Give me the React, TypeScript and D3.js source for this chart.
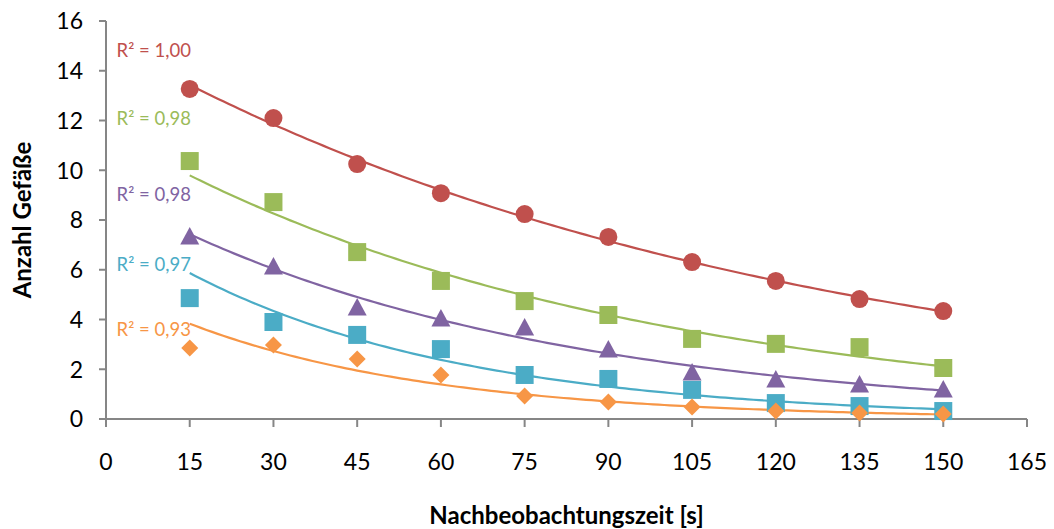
import React, { useEffect } from 'react';
import * as d3 from 'd3';

// Nachbeobachtungszeit vs. Anzahl Gefäße, five series with exponential trendlines
const times = [15, 30, 45, 60, 75, 90, 105, 120, 135, 150];

const redValues = [13.27, 12.1, 10.25, 9.08, 8.24, 7.32, 6.31, 5.55, 4.82, 4.34];
const greenValues = [10.37, 8.72, 6.71, 5.55, 4.74, 4.18, 3.22, 3.02, 2.89, 2.05];
const purpleValues = [7.36, 6.15, 4.5, 4.06, 3.7, 2.81, 1.89, 1.61, 1.41, 1.21];
const cyanValues = [4.86, 3.9, 3.38, 2.81, 1.77, 1.61, 1.17, 0.64, 0.52, 0.32];
const orangeValues = [2.85, 2.97, 2.41, 1.77, 0.92, 0.68, 0.48, 0.32, 0.24, 0.2];

const r2Labels = ['R² = 1,00', 'R² = 0,98', 'R² = 0,98', 'R² = 0,97', 'R² = 0,93'];
// y value (in data units) where each R² label sits
const r2LabelY = [14.55, 11.8, 8.75, 5.95, 3.35];

const xTicks = [0, 15, 30, 45, 60, 75, 90, 105, 120, 135, 150, 165];
const yTicks = [0, 2, 4, 6, 8, 10, 12, 14, 16];

const series = [
  { name: 'red', values: redValues, color: '#C0504D', shape: 'circle' },
  { name: 'green', values: greenValues, color: '#9BBB59', shape: 'square' },
  { name: 'purple', values: purpleValues, color: '#8064A2', shape: 'triangle' },
  { name: 'cyan', values: cyanValues, color: '#4BACC6', shape: 'square' },
  { name: 'orange', values: orangeValues, color: '#F79646', shape: 'diamond' },
];

const width = 1054;
const height = 529;
const margin = { top: 21, right: 27, bottom: 110, left: 106 };
const font = 'Lato, "Open Sans", sans-serif';
const axisColor = '#868686';

// least squares fit of ln(y) = ln(a) + b x, like Excel's exponential trendline
function expFit(xs: number[], ys: number[]) {
  const ly = ys.map(v => Math.log(v));
  const mx = d3.mean(xs) as number;
  const my = d3.mean(ly) as number;
  let sxy = 0;
  let sxx = 0;
  xs.forEach((x, i) => {
    sxy += (x - mx) * (ly[i] - my);
    sxx += (x - mx) * (x - mx);
  });
  const b = sxy / sxx;
  const a = Math.exp(my - b * mx);
  return (x: number) => a * Math.exp(b * x);
}

function markerPath(shape: string) {
  if (shape === 'circle') return d3.symbol(d3.symbolCircle, Math.PI * 81)() as string;
  if (shape === 'square') return 'M-9,-9H9V9H-9Z';
  if (shape === 'triangle') return 'M0,-9L9.5,8.5H-9.5Z';
  return 'M0,-8.5L8.5,0L0,8.5L-8.5,0Z';
}

export default function App() {
  useEffect(() => {
    document.body.style.margin = '0';
  }, []);

  const x = d3.scaleLinear().domain([0, 165]).range([margin.left, width - margin.right]);
  const y = d3.scaleLinear().domain([0, 16]).range([height - margin.bottom, margin.top]);

  const x0 = x(0);
  const y0 = y(0);

  const fitXs = d3.range(times[0], times[times.length - 1] + 0.01, 1);
  const line = d3.line<[number, number]>().x(d => x(d[0])).y(d => y(d[1]));

  return (
    <svg width={width} height={height} style={{ display: 'block', background: '#fff' }} fontFamily={font}>
      {/* axes */}
      <line x1={x0} x2={x0} y1={y(16)} y2={y0} stroke={axisColor} strokeWidth={2} />
      <line x1={x0} x2={x(165)} y1={y0} y2={y0} stroke={axisColor} strokeWidth={2} />
      {yTicks.map(t => (
        <g key={'y' + t}>
          <line x1={x0 - 7} x2={x0} y1={y(t)} y2={y(t)} stroke={axisColor} strokeWidth={2} />
          <text x={x0 - 23} y={y(t)} dy="0.36em" textAnchor="end" fontSize={23} fill="#000">
            {t}
          </text>
        </g>
      ))}
      {xTicks.map(t => (
        <g key={'x' + t}>
          <line x1={x(t)} x2={x(t)} y1={y0} y2={y0 + 8} stroke={axisColor} strokeWidth={2} />
          <text x={x(t)} y={y0 + 43} dy="0.36em" textAnchor="middle" fontSize={23} fill="#000">
            {t}
          </text>
        </g>
      ))}

      {/* trendlines */}
      {series.map(s => {
        const f = expFit(times, s.values);
        const pts = fitXs.map(v => [v, f(v)] as [number, number]);
        return (
          <path key={'fit' + s.name} d={line(pts) as string} fill="none" stroke={s.color} strokeWidth={2.2} />
        );
      })}

      {/* markers */}
      {series.map(s => (
        <g key={'m' + s.name} fill={s.color}>
          {s.values.map((v, i) => (
            <path key={i} d={markerPath(s.shape)} transform={`translate(${x(times[i])},${y(v)})`} />
          ))}
        </g>
      ))}

      {/* R² labels */}
      {series.map((s, i) => (
        <text key={'r2' + s.name} x={x(1.9)} y={y(r2LabelY[i])} fontSize={18.5} fill={s.color}>
          {r2Labels[i]}
        </text>
      ))}

      {/* axis titles */}
      <text
        x={(x0 + x(165)) / 2}
        y={515}
        dy="0.36em"
        textAnchor="middle"
        fontSize={24}
        fontWeight="bold"
        fill="#000"
      >
        Nachbeobachtungszeit [s]
      </text>
      <text
        transform={`translate(22,${(y(0) + y(16)) / 2}) rotate(-90)`}
        dy="0.36em"
        textAnchor="middle"
        fontSize={24}
        fontWeight="bold"
        fill="#000"
      >
        Anzahl Gefäße
      </text>
    </svg>
  );
}
